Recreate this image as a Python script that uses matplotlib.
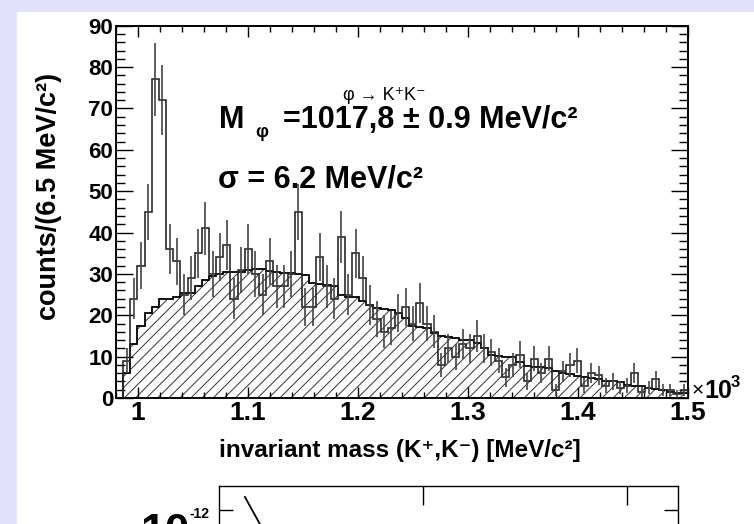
import numpy as np
import matplotlib
matplotlib.use('Agg')
import matplotlib.pyplot as plt
from matplotlib.patches import Rectangle
from matplotlib.ticker import MultipleLocator, NullLocator

# K+K- invariant mass, 6.5 MeV/c^2 bins, x axis in units of 10^3 MeV/c^2
mass_start = 0.9865
bin_width = 0.0065

signal = [9, 24, 32, 45, 77, 72, 36, 33, 25, 29,
          35, 41, 30, 34, 37, 24, 31, 36, 30, 25,
          33, 27, 27, 30, 45, 22, 22, 34, 27, 24,
          39, 25, 35, 29, 22.5, 19, 16, 17, 20.5, 22,
          18, 23, 18, 16, 8, 12, 10, 13, 12, 15,
          12, 11, 9, 5, 8, 10.5, 4, 9.5, 6, 9.5,
          2, 6.5, 8, 9, 3, 6, 5.5, 3, 4, 2.5,
          3, 6, 1.5, 2.5, 4.5, 2, 2, 1, 2]
mixed = [6, 13, 17.5, 20.5, 22, 24, 24, 24.5, 25.5, 25.5,
         27, 28.5, 29.5, 30, 30.5, 30.5, 30.5, 31, 31.3, 31.3,
         30.8, 30.5, 30.3, 30.3, 30, 29.7, 27.8, 27.5, 27.3, 27,
         25, 24.5, 24.5, 23.5, 22.5, 21.7, 21.5, 21.3, 20.5, 19.3,
         17.5, 17.2, 17, 15.7, 15, 14.8, 14.5, 14, 14, 13.3,
         12, 10.5, 10.2, 10, 10, 8.8, 7.8, 7.6, 7.4, 7.2,
         6.6, 6, 5.8, 5.2, 5, 4.8, 4.5, 4.2, 4, 3.8,
         3.2, 3, 2.8, 2.5, 2.2, 2, 1.4, 1.3, 1.2]

x_ticks = [1.0, 1.1, 1.2, 1.3, 1.4, 1.5]
x_ticklabels = ['1', '1.1', '1.2', '1.3', '1.4', '1.5']
y_ticks = [0, 10, 20, 30, 40, 50, 60, 70, 80, 90]

# second (cut off) panel below
low_curve_x = [0.127, 0.201, 0.3]
low_curve_y = [1.35e-12, 7.2e-13, 3.2e-13]

W, H = 754, 524
plt.rcParams['hatch.linewidth'] = 0.7
plt.rcParams['font.family'] = ['Liberation Sans', 'DejaVu Sans']


def fx(x):
    return x / W


def fy(y):
    return 1 - y / H


fig = plt.figure(figsize=(W / 100, H / 100), dpi=100)
fig.patch.set_facecolor('#e0e0f8')
fig.patches.append(Rectangle((fx(17), 0), fx(W - 17), 1 - 12 / H,
                             transform=fig.transFigure, color='white', zorder=-5))

ax = fig.add_axes([fx(116), fy(398), fx(688 - 116), (398 - 25.7) / H])
ax.set_facecolor('none')
signal = np.array(signal, dtype=float)
mixed = np.array(mixed, dtype=float)
edges = mass_start + bin_width * np.arange(len(signal) + 1)
centers = 0.5 * (edges[:-1] + edges[1:])
err = np.sqrt(signal)

ax.stairs(mixed, edges, fill=True, facecolor='white', edgecolor='#333333',
          hatch='///', lw=0, zorder=1)
ax.stairs(mixed, edges, color='black', lw=1.3, zorder=2)
ax.stairs(signal, edges, color='#2a2a2a', lw=1.2, zorder=3)
ax.vlines(centers, signal - err, signal + err, color='#444444', lw=1.2, zorder=4)

ax.set_xlim(0.98, 1.5)
ax.set_ylim(0, 90)
ax.set_xticks(x_ticks)
ax.set_xticklabels(x_ticklabels, fontsize=19, fontweight='bold')
ax.xaxis.set_minor_locator(MultipleLocator(0.02))
ax.set_yticks(y_ticks)
ax.set_yticklabels([str(v) for v in y_ticks], fontsize=16, fontweight='bold')
ax.yaxis.set_minor_locator(MultipleLocator(2))
ax.tick_params(which='both', direction='in', top=True, right=True, width=1)
ax.tick_params(axis='x', which='major', length=7.7, pad=2)
ax.tick_params(axis='x', which='minor', length=4.1)
ax.tick_params(axis='y', which='major', length=12.2, pad=2)
ax.tick_params(axis='y', which='minor', length=6.5)
for s in ax.spines.values():
    s.set_linewidth(1.4)

fig.text(fx(49), fy(196), 'counts/(6.5 MeV/c²)', rotation=90, ha='center',
         va='center', fontsize=19.5, fontweight='bold')
fig.text(fx(400), fy(451), 'invariant mass (K⁺,K⁻) [MeV/c²]', ha='center',
         va='center', fontsize=17.5, fontweight='bold')
fig.text(fx(692), fy(396), '×', fontsize=15, va='baseline')
fig.text(fx(704), fy(398), '10', fontsize=18, fontweight='bold', va='baseline')
fig.text(fx(731), fy(387), '3', fontsize=12, fontweight='bold', va='baseline')

fig.text(fx(343), fy(100), 'φ → K⁺K⁻', fontsize=13, va='baseline')
fig.text(fx(219), fy(128), 'M', fontsize=22, fontweight='bold', va='baseline')
fig.text(fx(262), fy(137), 'φ', fontsize=13, fontweight='bold', ha='center',
         va='baseline')
fig.text(fx(283), fy(128), '=1017,8 ± 0.9 MeV/c²', fontsize=22,
         fontweight='bold', va='baseline')
fig.text(fx(218), fy(187), 'σ = 6.2 MeV/c²', fontsize=22, fontweight='bold',
         va='baseline')

# lower panel, mostly outside the picture
ax2 = fig.add_axes([fx(219), (524 - 786) / H, fx(678 - 219), 300 / H])
ax2.set_facecolor('none')
ax2.plot(low_curve_x, low_curve_y, color='black', lw=1.3)
ax2.set_yscale('log')
ax2.set_ylim(10 ** -14.76, 10 ** -11.76)
ax2.set_xlim(0, 2.25)
ax2.set_xticks([1, 2])
ax2.set_yticks([1e-12])
ax2.yaxis.set_minor_locator(NullLocator())
ax2.tick_params(which='both', direction='in', top=True, right=True,
                labelbottom=False, labelleft=False, width=1)
ax2.tick_params(axis='x', length=14)
ax2.tick_params(axis='y', length=10)
for s in ax2.spines.values():
    s.set_linewidth(1.0)
fig.text(fx(140), fy(545), '10', fontsize=32, fontweight='bold', va='baseline')
fig.text(fx(190), fy(518), '-12', fontsize=10, fontweight='bold', va='baseline')

fig.savefig('out.png', dpi=100, facecolor=fig.get_facecolor())
